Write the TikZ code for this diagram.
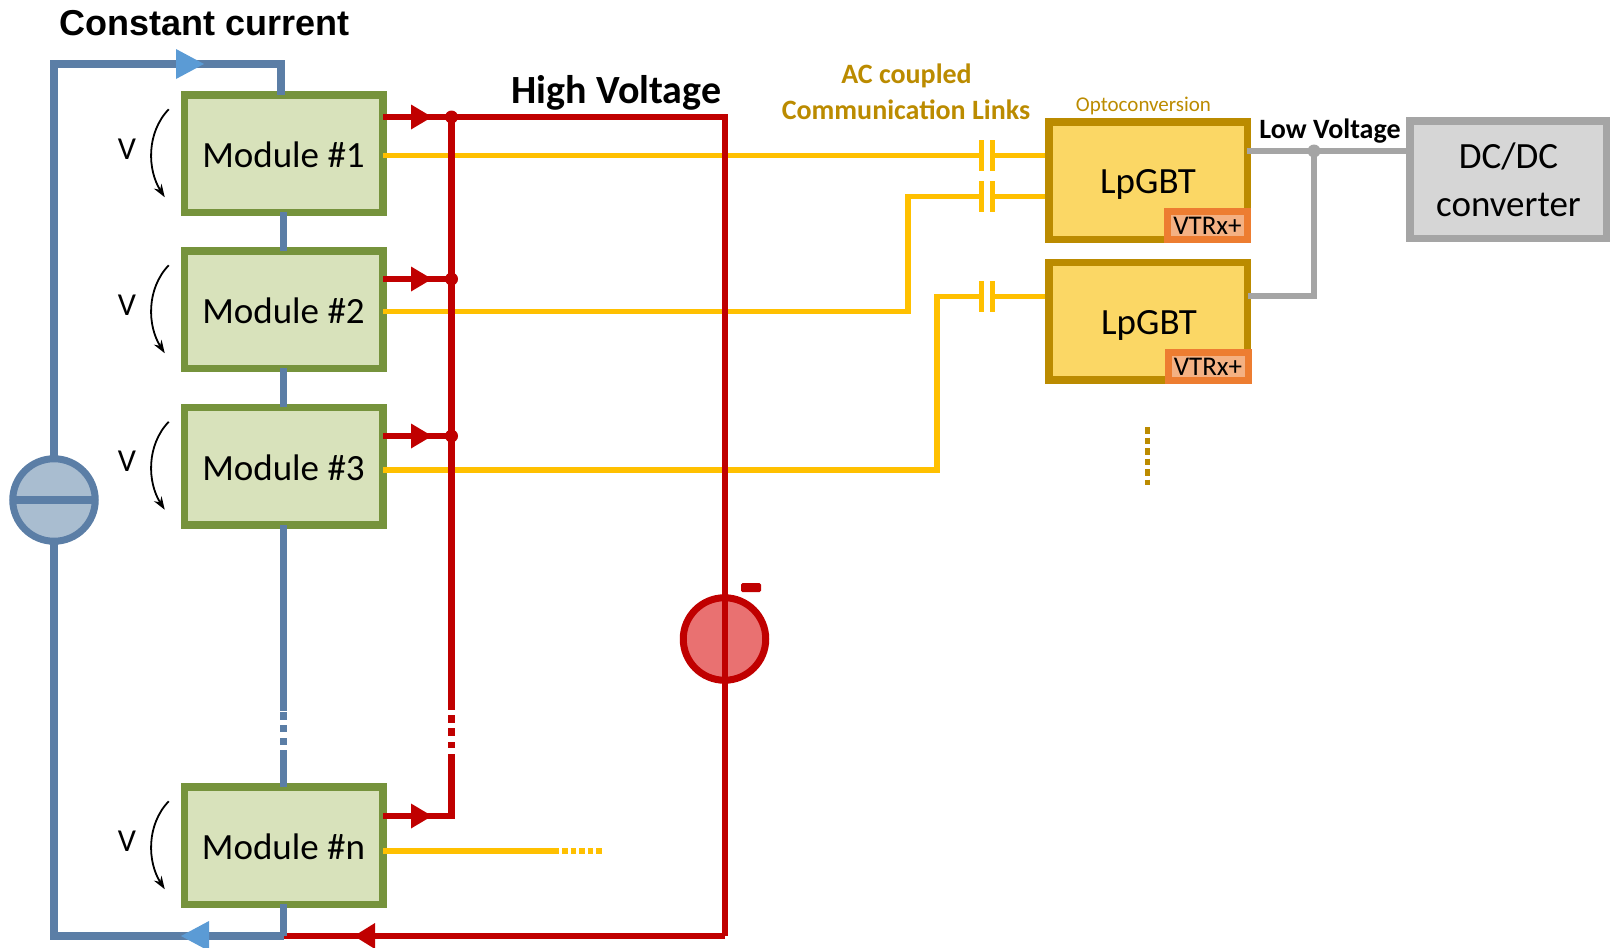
\documentclass[tikz,border=0pt]{standalone}
\usepackage{fontspec}
\setmainfont{Carlito}
\newfontfamily\arialbold[Scale=1]{Liberation Sans Bold}
\usetikzlibrary{arrows.meta,calc}
\definecolor{modfill}{HTML}{D8E2BB}
\definecolor{modline}{HTML}{76933C}
\definecolor{gbtfill}{HTML}{FBD765}
\definecolor{gbtline}{HTML}{BB8B00}
\definecolor{vtrfill}{HTML}{F4B183}
\definecolor{vtrline}{HTML}{ED7D31}
\definecolor{dcfill}{HTML}{D6D6D6}
\definecolor{dcline}{HTML}{A5A5A5}
\definecolor{hvred}{HTML}{C00000}
\definecolor{hvfill}{HTML}{E97171}
\definecolor{ccblue}{HTML}{5B7EA6}
\definecolor{ccfill}{HTML}{A9BDD0}
\definecolor{ccarrow}{HTML}{5B9BD5}
\definecolor{link}{HTML}{FFC000}
\tikzset{
  x=1pt,y=-1pt,
  box/.style={rectangle,draw,line width=7.5pt,inner sep=0pt,outer sep=0pt,minimum width=198.5pt,minimum height=117.5pt,text=black,font=\fontsize{37}{44}\selectfont},
  module/.style={box,fill=modfill,draw=modline},
  lpgbt/.style={box,fill=gbtfill,draw=gbtline},
  vtrx/.style={rectangle,draw=vtrline,fill=vtrfill,line width=7pt,inner sep=0pt,outer sep=0pt,minimum width=80pt,minimum height=28pt,font=\fontsize{27}{30}\selectfont},
  dcdc/.style={box,fill=dcfill,draw=dcline,minimum width=197pt,align=center,font=\fontsize{37}{48}\selectfont},
  source/.style={circle,draw,line width=7pt,inner sep=0pt,outer sep=0pt,minimum size=82.5pt},
  cc/.style={draw=ccblue,line width=7.2pt},
  hv/.style={draw=hvred,line width=6.5pt},
  lnk/.style={draw=link,line width=5.5pt},
  lv/.style={draw=dcline,line width=6.5pt},
  plate/.style={draw=link,line width=5pt},
  dot/.style={circle,fill=hvred,inner sep=0pt,minimum size=13pt},
  lvdot/.style={circle,fill=dcline,inner sep=0pt,minimum size=13pt},
  vdrop/.style={draw=black,line width=1.8pt,-{Stealth[length=13pt,width=9pt]}},
  vlabel/.style={font=\fontsize{32}{36}\selectfont,text=black},
  gold/.style={text=gbtline,font=\fontsize{28}{32}\bfseries\selectfont},
}
\newcommand{\modtext}[1]{\raisebox{-1.5pt}[\height][\depth]{#1}}
\begin{document}
\begin{tikzpicture}
\useasboundingbox (0,0) rectangle (1610,948);
% modules
\node[module] (m1) at (283.5,153.5) {\modtext{Module \#1}};
\node[module] (m2) at (283.5,309.5) {\modtext{Module \#2}};
\node[module] (m3) at (283.5,466) {\modtext{Module \#3}};
\node[module] (mn) at (283.5,845.5) {\modtext{Module \#n}};
% opto boards
\node[lpgbt] (g1) at (1148,180.5) {};
\node[lpgbt] (g2) at (1148,321) {};
\node[text=black,font=\fontsize{37}{44}\selectfont] (g1t) at (1148,184) {LpGBT};
\node[text=black,font=\fontsize{37}{44}\selectfont] (g2t) at (1149,325) {LpGBT};
\node[vtrx] (v1) at (1207.5,225.5) {VTRx+};
\node[vtrx] (v2) at (1208,366.5) {VTRx+};
\node[dcdc] (dc) at (1508.5,179.5) {DC/DC\\converter};
% coordinates
\coordinate (tl) at (54,64);
\coordinate (tr) at (281,64);
\coordinate (bl) at (54,936);
\coordinate (bm) at (283.5,936);
\coordinate (hvtr) at (725,117);
\coordinate (hvbr) at (725,936);
\coordinate (r1) at (383,117);
\coordinate (r2) at (383,279);
\coordinate (r3) at (383,436);
\coordinate (rn) at (383,816);
\coordinate (j1) at (451.5,117);
\coordinate (j2) at (451.5,279);
\coordinate (j3) at (451.5,436);
\coordinate (jn) at (451.5,816);
\coordinate (y1) at (383,155.5);
\coordinate (y2) at (383,311.5);
\coordinate (y3) at (383,470);
\coordinate (yn) at (383,851);
% yellow links
\coordinate (c1l) at (981,155.5);
\coordinate (c1r) at (992,155.5);
\coordinate (c2l) at (981,196.5);
\coordinate (c2r) at (992,196.5);
\coordinate (c3l) at (981,296.5);
\coordinate (c3r) at (992,296.5);
\draw[lnk] (y1) -- (c1l);
\draw[lnk] (y2) -- (908,311.5) -- (908,196.5) -- (c2l);
\draw[lnk] (y3) -- (937,470) -- (937,296.5) -- (c3l);
\draw[lnk] (c1r) -- (1045,155.5);
\draw[lnk] (c2r) -- (1045,196.5);
\draw[lnk] (c3r) -- (1045,296.5);
\foreach \c/\t in {c1/140,c2/181,c3/281}{
  \draw[plate] (\c l |- 0,\t) -- (\c l |- 0,\t+31);
  \draw[plate] (\c r |- 0,\t) -- (\c r |- 0,\t+31);
}
\draw[lnk] (yn) -- (559,851);
\draw[lnk,dash pattern=on 5.5pt off 3pt] (562,851) -- (603,851);
% dots below the boards
\draw[draw=gbtline,line width=5.5pt,dash pattern=on 6.5pt off 4pt] (1147.5,427) -- (1147.5,485);
% low voltage
\draw[lv] (g1.east |- 0,151) -- (dc.west |- 0,151);
\draw[lv] (1314,151) -- (1314,296) -- (1248,296);
\node[lvdot] (lvj) at (1314,151) {};
% high voltage
\draw[hv] (hvbr) -- (hvtr) -- (r1);
\draw[hv] (r2) -- (j2);
\draw[hv] (r3) -- (j3);
\draw[hv] (rn) -- (jn) -- (451.5,754);
\draw[hv] (j1) -- (451.5,710);
\draw[hv] (451.5,715) -- (451.5,723);
\draw[hv] (451.5,728) -- (451.5,736);
\draw[hv] (451.5,742) -- (451.5,748);
\node[dot] (d1) at (j1) {};
\node[dot] (d2) at (j2) {};
\node[dot] (d3) at (j3) {};
\draw[hv] (hvbr) -- (bm);
% red source
\node[source,draw=hvred,fill=hvfill] (hvs) at (724.5,639) {};
\draw[hv] (hvtr |- hvs.north) -- (hvtr |- hvs.south);
\draw[fill=hvred,draw=none,rounded corners=1.5pt] (741,583) rectangle (761,592);
% red arrowheads
\foreach \y in {117,279,436,816}{
  \fill[hvred] (411,\y-12.5) -- (432,\y) -- (411,\y+12.5) -- cycle;
}
\fill[hvred] (354,936) -- (375,923) -- (375,949) -- cycle;
% blue loop
\draw[cc] (bm) -- (bl) -- (tl) -- (tr) -- (tr |- m1.north);
\draw[cc] (m1.south) -- (m2.north);
\draw[cc] (m2.south) -- (m3.north);
\draw[cc] (m3.south) -- (283.5,711);
\draw[cc] (283.5,712) -- (283.5,720);
\draw[cc] (283.5,725) -- (283.5,732);
\draw[cc] (283.5,738) -- (283.5,745);
\draw[cc] (283.5,750) -- (mn.north);
\draw[cc] (mn.south) -- (bm);
\fill[ccarrow] (176,49) -- (204,64) -- (176,79) -- cycle;
\fill[ccarrow] (181,936) -- (209,921) -- (209,951) -- cycle;
% blue source
\node[source,draw=ccblue,fill=ccfill] (ccs) at (54,500) {};
\draw[cc] (ccs.west) -- (ccs.east);
% voltage drops
\foreach \m/\n in {m1/a,m2/b,m3/c,mn/d}{
  \coordinate (\n s) at ($(\m.north west)+(-15.5,14.5)$);
  \coordinate (\n e) at ($(\m.north west)+(-19.5,102.5)$);
  \draw[vdrop] (\n s) .. controls ($(\m.north west)+(-38,38)$) and ($(\m.north west)+(-37,75)$) .. (\n e);
}
\node[vlabel] (va) at (127,149) {V};
\node[vlabel] (vb) at (127,305) {V};
\node[vlabel] (vc) at (127,461) {V};
\node[vlabel] (vd) at (127,841) {V};
% labels
\node[text=black,font=\arialbold\fontsize{36}{40}\selectfont] (ccl) at (205,23) {Constant current};
\node[text=black,font=\fontsize{40}{44}\bfseries\selectfont] (hvl) at (616.5,93) {High Voltage};
\node[gold] (ac1) at (906.5,76) {AC coupled};
\node[gold] (ac2) at (906,110) {Communication Links};
\node[text=gbtline,font=\fontsize{21}{24}\selectfont] (opt) at (1143.5,106) {Optoconversion};
\node[text=black,font=\fontsize{28}{30}\bfseries\selectfont] (lvl) at (1330,131) {Low Voltage};
\end{tikzpicture}
\end{document}
